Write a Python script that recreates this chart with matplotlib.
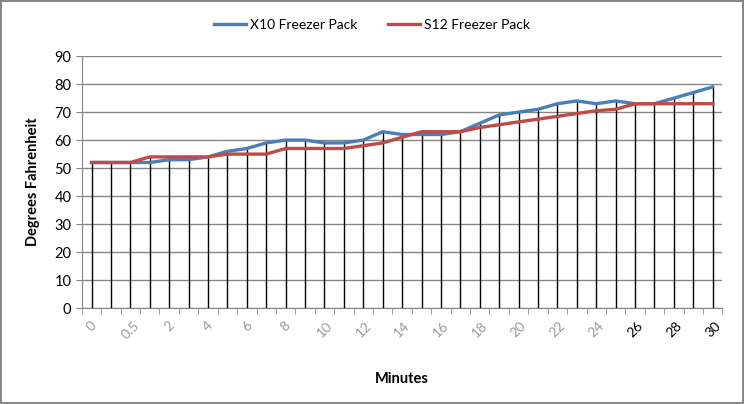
import numpy as np
import matplotlib.pyplot as plt

plt.rcParams['font.family'] = ['Lato', 'DejaVu Sans']

minutes = ["0", "0.25", "0.5", "1", "2", "3", "4", "5", "6", "7", "8", "9", "10",
           "11", "12", "13", "14", "15", "16", "17", "18", "19", "20", "21", "22",
           "23", "24", "25", "26", "27", "28", "29", "30"]
x10 = [52, 52, 52, 52, 53, 53, 54, 56, 57, 59, 60, 60, 59, 59, 60, 63, 62,
       62, 62, 63, 66, 69, 70, 71, 73, 74, 73, 74, 73, 73, 75, 77, 79]
s12 = [52, 52, 52, 54, 54, 54, 54, 55, 55, 55, 57, 57, 57, 57, 58, 59, 61,
       63, 63, 63, 64.5, 65.5, 66.5, 67.5, 68.5, 69.5, 70.5, 71, 73, 73, 73, 73, 73]

x = np.arange(len(minutes))
top = np.maximum(x10, s12)

fig = plt.figure(figsize=(7.44, 4.04), dpi=100)
fig.patch.set_edgecolor('#868686')
fig.patch.set_linewidth(1.5)
ax = fig.add_axes([0.110, 0.2376, 0.861, 0.6234])

ax.set_ylim(0, 90)
ax.set_xlim(-0.5, len(minutes) - 0.5)
ax.set_yticks(range(0, 91, 10))
ax.yaxis.grid(True, color='#868686', linewidth=1)
ax.set_axisbelow(True)

# drop lines from each point down to the axis
ax.vlines(x, 0, top, color='black', linewidth=1, zorder=2)
ax.plot(x, x10, color='#4A7EBB', linewidth=2.4, label='X10 Freezer Pack', zorder=3)
ax.plot(x, s12, color='#BE4B48', linewidth=2.4, label='S12 Freezer Pack', zorder=3)

ax.set_xticks(x[::2])
ax.set_xticklabels(minutes[::2], rotation=45, ha='center', fontsize=10)
for lab in ax.get_xticklabels():
    lab.set_color('black' if lab.get_text() in ('26', '28', '30') else '#999999')
ax.set_xticks(np.arange(-0.5, len(minutes)), minor=True)
ax.tick_params(axis='x', which='major', length=0, pad=8)
ax.tick_params(axis='x', which='minor', length=4, color='#868686')
ax.tick_params(axis='y', length=4, color='#868686', labelsize=10.5)

for s in ['top', 'right']:
    ax.spines[s].set_visible(False)
ax.spines['left'].set_color('#868686')
ax.spines['bottom'].set_color('#868686')

ax.set_xlabel('Minutes', fontsize=10.5, fontweight='bold', labelpad=22)
ax.set_ylabel('Degrees Fahrenheit', fontsize=10.5, fontweight='bold', labelpad=10)

fig.legend(loc='upper center', bbox_to_anchor=(0.50, 0.985), ncol=2, frameon=False,
           fontsize=10, handlelength=2.3, handletextpad=0.3, columnspacing=2.2)

fig.savefig('out.png', dpi=100, edgecolor=fig.get_edgecolor())
